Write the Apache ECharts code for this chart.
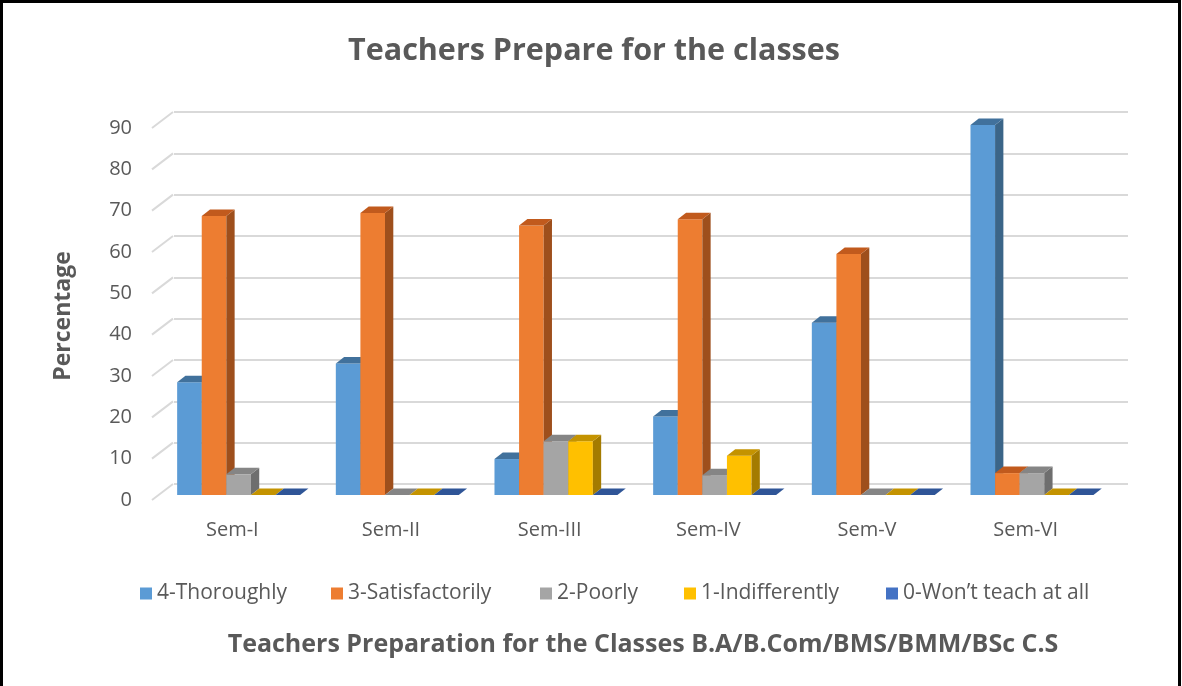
<!DOCTYPE html>
<html>
<head>
<meta charset="utf-8">
<script src="https://cdn.jsdelivr.net/npm/echarts@6/dist/echarts.min.js"></script>
<style>
  html, body { margin: 0; padding: 0; background: #fff; }
  #chart { width: 1182px; height: 686px; }
</style>
</head>
<body>
<div id="chart"></div>
<script>
const categories = ['Sem-I', 'Sem-II', 'Sem-III', 'Sem-IV', 'Sem-V', 'Sem-VI']
const seriesNames = ['4-Thoroughly', '3-Satisfactorily', '2-Poorly', '1-Indifferently', '0-Won\u2019t teach at all']

// percentage per semester, one array per rating
const thoroughly = [27.3, 31.8, 8.7, 19.0, 41.7, 89.5]
const satisfactorily = [67.5, 68.2, 65.2, 66.7, 58.3, 5.3]
const poorly = [5.0, 0, 13.0, 4.8, 0, 5.3]
const indifferently = [0, 0, 13.0, 9.5, 0, 0]
const wontTeach = [0, 0, 0, 0, 0, 0]

const yTicks = [0, 10, 20, 30, 40, 50, 60, 70, 80, 90]

const allValues = [thoroughly, satisfactorily, poorly, indifferently, wontTeach]

// front / top / side face colours
const faces = [
  ['#5B9BD5', '#41719C', '#3B6588'],
  ['#ED7D31', '#C15A1D', '#9E4F1C'],
  ['#A5A5A5', '#858585', '#6E6E6E'],
  ['#FFC000', '#C49300', '#A47B00'],
  ['#4472C4', '#2F5597', '#2A4A80'],
]

const txt = '#595959'
const font = 'Open Sans'

// fake 3d depth
const WALL_X = 21, WALL_Y = -16
const PLANE_X = 6.3, PLANE_Y = -5
const SIDE_X = 8.3, SIDE_Y = -6.5
const BAR_RATIO = 0.155

function barRenderer(k) {
  return function (params, api) {
    const ci = api.value(0)
    const v = api.value(1)
    const base = api.coord([ci, 0])
    const top = api.coord([ci, v])
    const bw = api.size([1, 0])[0] * BAR_RATIO
    const x0 = base[0] + PLANE_X - 2.5 * bw + k * bw
    const x1 = x0 + bw
    const yb = base[1] + PLANE_Y
    const yt = top[1] + PLANE_Y
    const c = faces[k]
    return {
      type: 'group',
      children: [
        { type: 'rect', shape: { x: x0, y: yt, width: bw, height: yb - yt }, style: { fill: c[0] } },
        { type: 'polygon', shape: { points: [[x1, yt], [x1 + SIDE_X, yt + SIDE_Y], [x1 + SIDE_X, yb + SIDE_Y], [x1, yb]] }, style: { fill: c[2] } },
        { type: 'polygon', shape: { points: [[x0, yt], [x0 + SIDE_X, yt + SIDE_Y], [x1 + SIDE_X, yt + SIDE_Y], [x1, yt]] }, style: { fill: c[1] } },
      ]
    }
  }
}

const barSeries = seriesNames.map((name, k) => ({
  name: name,
  type: 'custom',
  xAxisIndex: 0,
  yAxisIndex: 0,
  z: 3,
  itemStyle: { color: faces[k][0] },
  renderItem: barRenderer(k),
  data: allValues[k].map((v, i) => [i, v]),
}))

// slanted stubs joining the front axis to the back wall lines
const wallSeries = {
  type: 'custom',
  xAxisIndex: 0,
  yAxisIndex: 0,
  z: 1,
  silent: true,
  renderItem: (params, api) => {
    const y = api.coord([0, api.value(1)])[1]
    const x = params.coordSys.x - 1
    return {
      type: 'line',
      shape: { x1: x, y1: y, x2: x + WALL_X, y2: y + WALL_Y },
      style: { stroke: '#D9D9D9', lineWidth: 2 }
    }
  },
  data: yTicks.map(t => [0, t]),
}

const legendLeft = [135, 326, 535, 679, 881]

const chart = echarts.init(document.getElementById('chart'))
chart.setOption({
  textStyle: { fontFamily: font },
  animation: false,
  legend: legendLeft.map((x, k) => ({
    data: [seriesNames[k]],
    left: x, top: 578,
    icon: 'rect', itemWidth: 12, itemHeight: 12, itemGap: 7,
    textStyle: { color: txt, fontSize: 21, fontFamily: font },
  })),
  graphic: [
    {
      type: 'rect', silent: true,
      shape: { x: 1.5, y: 1.5, width: 1178, height: 700 },
      style: { fill: null, stroke: '#000', lineWidth: 3 },
    },
    {
      type: 'text', silent: true, x: 594, y: 51,
      style: {
        text: 'Teachers Prepare for the classes', fill: txt, fontSize: 30.5, fontWeight: 'bold', fontFamily: font,
        align: 'center', verticalAlign: 'middle',
      },
    },
    {
      type: 'text', silent: true, x: 643, y: 645,
      style: {
        text: 'Teachers Preparation for the Classes B.A/B.Com/BMS/BMM/BSc C.S', fill: txt, fontSize: 25, fontWeight: 'bold', fontFamily: font,
        align: 'center', verticalAlign: 'middle',
      },
    },
    {
      type: 'text', silent: true,
      x: 63, y: 316, rotation: Math.PI / 2,
      style: {
        text: 'Percentage', fill: txt, fontSize: 23, fontWeight: 'bold', fontFamily: font,
        align: 'center', verticalAlign: 'middle',
      },
    },
  ],
  grid: [
    { left: 153, right: 77, top: 128, bottom: 186 },
    { left: 174, right: 54, top: 112, bottom: 202 },
  ],
  xAxis: [
    {
      type: 'category', gridIndex: 0, data: categories,
      axisLine: { show: false }, axisTick: { show: false },
      axisLabel: { color: txt, fontSize: 20, margin: 20, fontFamily: font },
    },
    { type: 'value', gridIndex: 1, show: false, min: 0, max: 1 },
  ],
  yAxis: [
    {
      type: 'value', gridIndex: 0, min: 0, max: 90, interval: 10,
      splitLine: { show: false }, axisLine: { show: false }, axisTick: { show: false },
      axisLabel: { color: txt, fontSize: 20, margin: 21, fontFamily: font },
    },
    {
      type: 'value', gridIndex: 1, min: 0, max: 90, interval: 10,
      axisLabel: { show: false }, axisLine: { show: false }, axisTick: { show: false },
      splitLine: { show: true, lineStyle: { color: '#D9D9D9', width: 2 } },
    },
  ],
  series: [wallSeries, ...barSeries],
})
</script>
</body>
</html>
